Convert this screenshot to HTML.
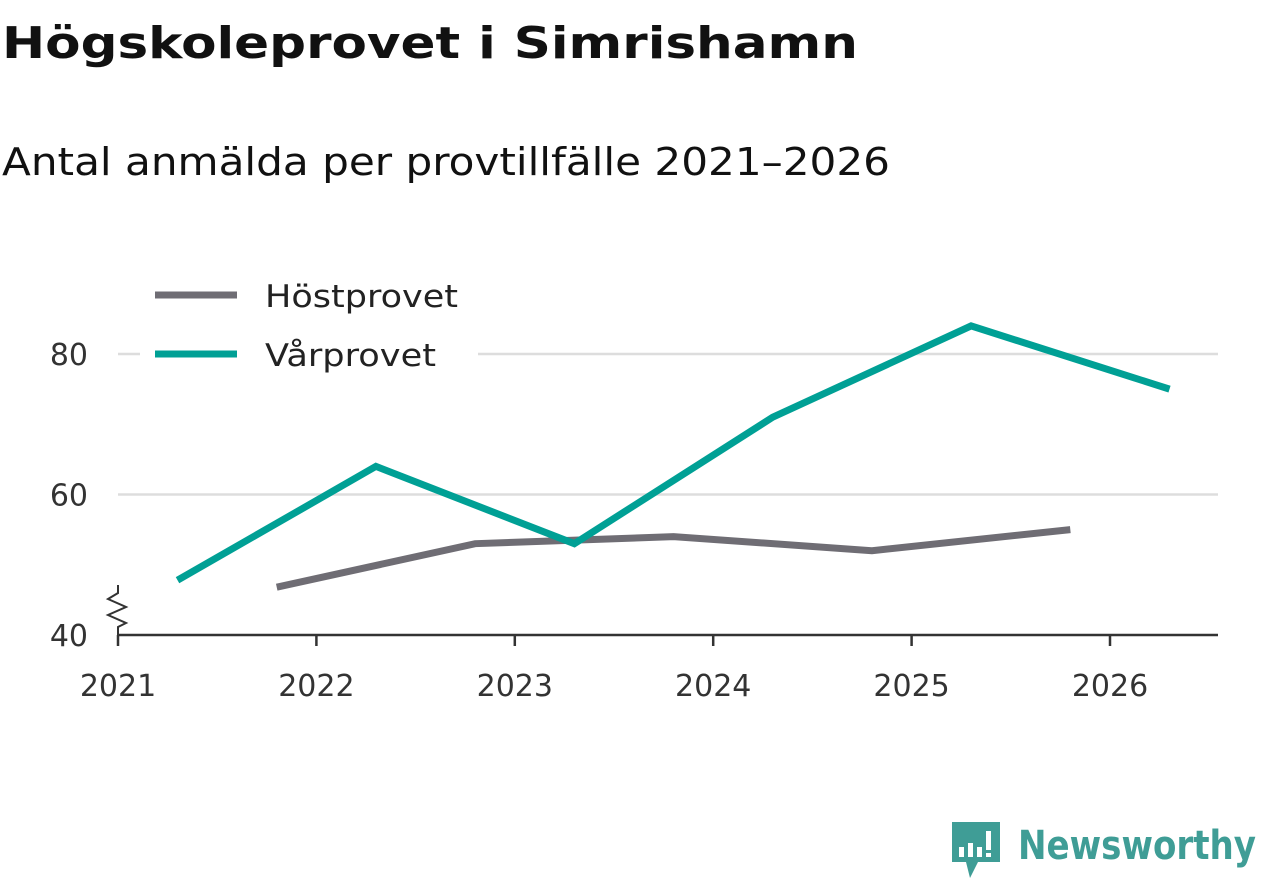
<!DOCTYPE html>
<html><head><meta charset="utf-8"><style>
html,body{margin:0;padding:0;background:#fff;width:1262px;height:879px;overflow:hidden}
svg text{font-family:"DejaVu Sans","Liberation Sans",sans-serif}
</style></head><body>
<svg id="c" width="1262" height="879" xmlns="http://www.w3.org/2000/svg">
<text x="2" y="58" font-size="44" font-weight="bold" fill="#111" textLength="856" lengthAdjust="spacingAndGlyphs">Högskoleprovet i Simrishamn</text>
<text x="2" y="175" font-size="38" fill="#111" textLength="888" lengthAdjust="spacingAndGlyphs">Antal anmälda per provtillfälle 2021–2026</text>
<g id="grid"></g><g id="axes"></g><g id="series"></g>
<g>
<rect x="140" y="270" width="338" height="110" fill="#fff"/>
<line x1="155" y1="295" x2="237" y2="295" stroke="#6f6d74" stroke-width="7"/>
<text x="265" y="307" font-size="31" fill="#222" textLength="193" lengthAdjust="spacingAndGlyphs">Höstprovet</text>
<line x1="155" y1="354" x2="237" y2="354" stroke="#00a095" stroke-width="7"/>
<text x="265" y="366" font-size="31" fill="#222" textLength="171" lengthAdjust="spacingAndGlyphs">Vårprovet</text>
</g>
<g>
<path d="M952 822 h48 v40 h-22 l-8 16 l-4 -16 h-14 z" fill="#3f9d96"/>
<rect x="959" y="847" width="5" height="10" fill="#fff"/><rect x="968" y="843" width="5" height="14" fill="#fff"/><rect x="977" y="847" width="5" height="10" fill="#fff"/><rect x="986" y="831" width="5" height="19" fill="#fff"/><rect x="986" y="853" width="5" height="4" fill="#fff"/>
<text x="1018" y="859" font-size="40" font-weight="bold" fill="#3f9d96" textLength="238" lengthAdjust="spacingAndGlyphs">Newsworthy</text>
</g>
</svg>
<script>
const years=[2021,2022,2023,2024,2025,2026];
const yTicks=[40,60,80];
const varX=[2021.3,2022.3,2023.3,2024.3,2025.3,2026.3];
const varValues=[47.8,64,53,71,84,75];
const hostX=[2021.8,2022.8,2023.8,2024.8,2025.8];
const hostValues=[46.8,53,54,52,55];
const NS="http://www.w3.org/2000/svg";
function xs(v){return 118+(v-2021)*198.4;}
function ys(v){return 635-(v-40)*7.025;}
function mk(tag,attrs,parent){const e=document.createElementNS(NS,tag);for(const k in attrs)e.setAttribute(k,attrs[k]);document.getElementById(parent).appendChild(e);return e;}
yTicks.forEach(t=>{
  if(t>40){const g=mk('line',{x1:118,x2:1218,y1:ys(t),y2:ys(t),stroke:'#dddddd','stroke-width':2.5},'grid');
  
  }
  const l=mk('text',{x:88,y:ys(t)+11,'font-size':30,fill:'#333','text-anchor':'end'},'axes');l.textContent=t;
  
  
});
const ax=mk('line',{x1:118,x2:1218,y1:635,y2:635,stroke:'#333','stroke-width':2.5},'axes');


const br=mk('path',{d:'M118 585 v8 l-10 6 l18 8 l-18 8 l18 8 l-8 4 v8',fill:'none',stroke:'#333','stroke-width':2},'axes');


years.forEach(y=>{
  const t=mk('line',{x1:xs(y),x2:xs(y),y1:635,y2:646,stroke:'#333','stroke-width':2.5},'axes');
  
  
  const l=mk('text',{x:xs(y),y:696,'font-size':30,fill:'#333','text-anchor':'middle'},'axes');l.textContent=y;
  
  
});
function line(xv,vals,color,name){
  const p=mk('polyline',{points:xv.map((x,i)=>xs(x)+','+ys(vals[i])).join(' '),fill:'none',stroke:color,'stroke-width':7,'stroke-linejoin':'miter'},'series');
  
  
}
line(hostX,hostValues,'#6f6d74','line-hostprovet');
line(varX,varValues,'#00a095','line-varprovet');
</script>
</body></html>
